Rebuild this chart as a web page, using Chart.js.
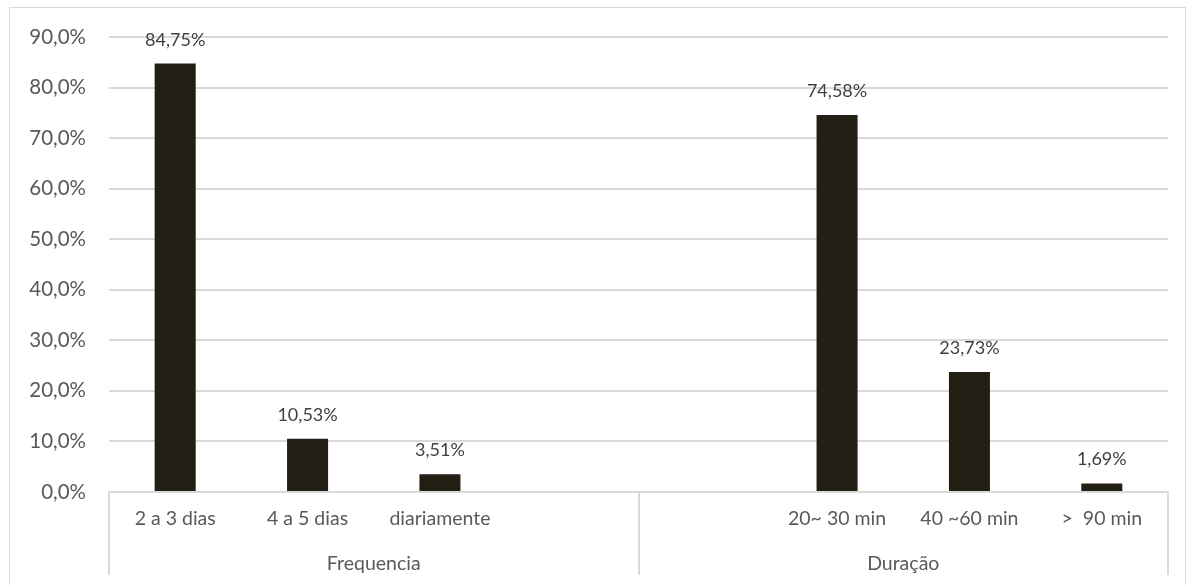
<!DOCTYPE html>
<html>
<head>
<meta charset="utf-8">
<title>Frequencia e Duração</title>
<script src="https://cdn.jsdelivr.net/npm/chart.js@4.4.0/dist/chart.umd.min.js"></script>
<style>
  html, body { margin: 0; padding: 0; background: #ffffff; }
  #wrap { width: 1194px; height: 585px; }
</style>
</head>
<body>
<div id="wrap"><canvas id="grafico" width="1194" height="585"></canvas></div>
<script>
// categorias (duas vazias separam os grupos)
const categorias = ['2 a 3 dias', '4 a 5 dias', 'diariamente', '', '', '20~ 30 min', '40 ~60 min', '>  90 min'];
const valores = [84.75, 10.53, 3.51, null, null, 74.58, 23.73, 1.69];
// grupos: nome e quantas categorias cada um ocupa
const grupos = ['Frequencia', 'Duração'];
const tamanhoGrupos = [4, 4];
const eixoMin = 0;
const eixoMax = 90;
const eixoPasso = 10;

const fonte = 'Lato, "Open Sans", sans-serif';
const corTexto = '#595959';
const corLinha = '#d9d9d9';

function formatar(v, casas) {
    return v.toFixed(casas).replace('.', ',') + '%';
}

// moldura externa
const moldura = {
    id: 'moldura',
    beforeDraw(chart) {
        const ctx = chart.ctx;
        ctx.save();
        ctx.fillStyle = '#ffffff';
        ctx.fillRect(0, 0, chart.width, chart.height);
        ctx.strokeStyle = corLinha;
        ctx.lineWidth = 1;
        ctx.strokeRect(9.5, 7.5, 1176, 600);
        ctx.restore();
    }
};

// rótulos de valor acima das barras
const rotulos = {
    id: 'rotulos',
    afterDatasetsDraw(chart) {
        const ctx = chart.ctx;
        const meta = chart.getDatasetMeta(0);
        ctx.save();
        ctx.font = '18px ' + fonte;
        ctx.fillStyle = '#404040';
        ctx.textAlign = 'center';
        ctx.textBaseline = 'alphabetic';
        meta.data.forEach((bar, i) => {
            if (valores[i] === null) return;
            ctx.fillText(formatar(valores[i], 2), bar.x, bar.y - 18);
        });
        ctx.restore();
    }
};

// segundo nível do eixo x: divisórias e nomes dos grupos
const eixoGrupos = {
    id: 'eixoGrupos',
    afterDraw(chart) {
        const ctx = chart.ctx;
        const x = chart.scales.x;
        const area = chart.chartArea;
        const passo = (x.right - x.left) / categorias.length;
        ctx.save();
        ctx.strokeStyle = corLinha;
        ctx.lineWidth = 2;
        let inicio = 0;
        const bordas = [x.left];
        tamanhoGrupos.forEach(n => {
            inicio += n;
            bordas.push(x.left + inicio * passo);
        });
        bordas.forEach(bx => {
            const px = Math.round(bx);
            ctx.beginPath();
            ctx.moveTo(px, area.bottom);
            ctx.lineTo(px, 575);
            ctx.stroke();
        });
        ctx.font = '19.5px ' + fonte;
        ctx.fillStyle = corTexto;
        ctx.textAlign = 'center';
        ctx.textBaseline = 'alphabetic';
        grupos.forEach((g, i) => {
            ctx.fillText(g, (bordas[i] + bordas[i + 1]) / 2, 570);
        });
        ctx.restore();
    }
};

const ctx = document.getElementById('grafico').getContext('2d');
const grafico = new Chart(ctx, {
    type: 'bar',
    data: {
        labels: categorias,
        datasets: [{
            data: valores,
            backgroundColor: '#231f14',
            borderWidth: 0,
            barPercentage: 0.31,
            categoryPercentage: 1
        }]
    },
    options: {
        responsive: false,
        animation: false,
        layout: { padding: { top: 37, right: 26, left: 0, bottom: 0 } },
        plugins: {
            legend: { display: false },
            tooltip: { enabled: false }
        },
        scales: {
            x: {
                grid: { display: false, drawTicks: false },
                border: { display: true, color: corLinha, width: 2 },
                ticks: {
                    color: corTexto,
                    font: { family: fonte, size: 19.5 },
                    padding: 15,
                    maxRotation: 0,
                    autoSkip: false
                },
                afterFit(scale) { scale.height = 93; }
            },
            y: {
                min: eixoMin,
                max: eixoMax,
                ticks: {
                    stepSize: eixoPasso,
                    color: corTexto,
                    font: { family: fonte, size: 20.5 },
                    padding: 23,
                    callback: v => formatar(v, 1)
                },
                grid: { color: corLinha, lineWidth: 2, drawTicks: false },
                border: { display: false },
                afterFit(scale) { scale.width = 109; }
            }
        }
    },
    plugins: [moldura, rotulos, eixoGrupos]
});
</script>
</body>
</html>
